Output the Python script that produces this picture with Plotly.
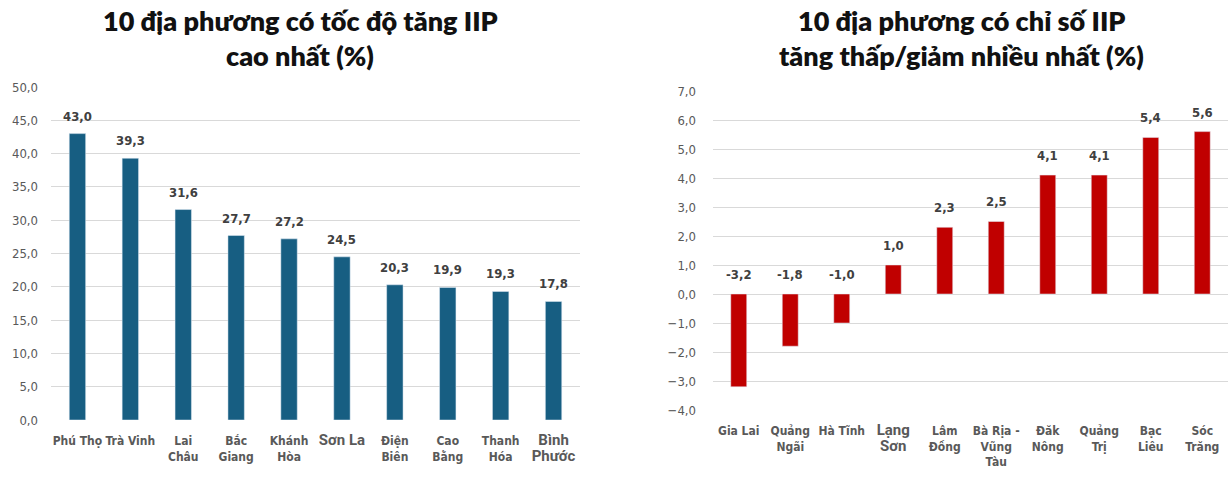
import plotly.graph_objects as go

# Top 10 provinces by IIP growth (%)
top_provinces = ["Phú Thọ", "Trà Vinh", "Lai<br>Châu", "Bắc<br>Giang", "Khánh<br>Hòa",
                 "Sơn La", "Điện<br>Biên", "Cao<br>Bằng", "Thanh<br>Hóa", "Bình<br>Phước"]
top_values = [43.0, 39.3, 31.6, 27.7, 27.2, 24.5, 20.3, 19.9, 19.3, 17.8]

# 10 provinces with lowest growth / largest decline (%)
low_provinces = ["Gia Lai", "Quảng<br>Ngãi", "Hà Tĩnh", "Lạng<br>Sơn", "Lâm<br>Đồng",
                 "Bà Rịa -<br>Vũng<br>Tàu", "Đăk<br>Nông", "Quảng<br>Trị", "Bạc<br>Liêu", "Sóc<br>Trăng"]
low_values = [-3.2, -1.8, -1.0, 1.0, 2.3, 2.5, 4.1, 4.1, 5.4, 5.6]

# labels rendered in a wider typeface
wide_labels = {"Sơn La", "Bình<br>Phước", "Lạng<br>Sơn"}

NARROW = "DejaVu Sans Condensed, Liberation Sans Narrow, Roboto, sans-serif"
TITLE_FONT = "Lato, Open Sans, sans-serif"
BLUE = "#175e82"
RED = "#c00000"
GRID = "#d9d9d9"
TICK = "#595959"
LABEL = "#404040"


def tick_text(names):
    out = []
    for n in names:
        if n in wide_labels:
            out.append('<span style="font-family:Roboto, sans-serif;font-size:15px">' + n + "</span>")
        else:
            out.append(n)
    return out


def fmt(v):
    return f"{v:.1f}".replace(".", ",")


fig = go.Figure()

fig.add_trace(go.Bar(x=list(range(len(top_values))), y=top_values, marker_color=BLUE,
                     width=0.31, xaxis="x", yaxis="y", hoverinfo="skip"))
fig.add_trace(go.Bar(x=list(range(len(low_values))), y=low_values, marker_color=RED,
                     width=0.31, xaxis="x2", yaxis="y2", hoverinfo="skip"))

annotations = []
for i, v in enumerate(top_values):
    annotations.append(dict(x=i, y=v, xref="x", yref="y", text=fmt(v), showarrow=False,
                            yanchor="bottom", yshift=8,
                            font=dict(family=NARROW, size=13, color=LABEL, weight="bold")))
for i, v in enumerate(low_values):
    annotations.append(dict(x=i, y=max(v, 0), xref="x2", yref="y2", text=fmt(v), showarrow=False,
                            yanchor="bottom", yshift=10,
                            font=dict(family=NARROW, size=13, color=LABEL, weight="bold")))

titles = [
    (300, 20, "10 địa phương có tốc độ tăng IIP"),
    (300, 55, "cao nhất (%)"),
    (961, 20, "10 địa phương có chỉ số IIP"),
    (961, 55, "tăng thấp/giảm nhiều nhất (%)"),
]
for x, y, t in titles:
    annotations.append(dict(x=x / 1230, y=1 - y / 483, xref="paper", yref="paper", text=t,
                            showarrow=False, xanchor="center", yanchor="middle",
                            font=dict(family=TITLE_FONT, size=27, color="#111111", weight=800)))

axis_common = dict(showline=False, zeroline=False, ticks="", fixedrange=True, automargin=False)

fig.update_layout(
    width=1230, height=483,
    margin=dict(l=0, r=0, t=0, b=0),
    paper_bgcolor="white", plot_bgcolor="white",
    showlegend=False,
    separators=",.",
    annotations=annotations,
    xaxis=dict(domain=[51 / 1230, 580 / 1230], range=[-0.5, 9.5], tickmode="array",
               tickvals=list(range(10)), ticktext=tick_text(top_provinces), showgrid=False,
               tickfont=dict(family=NARROW, size=12, color=TICK, weight="bold"),
               tickangle=0, ticklabelstandoff=12, anchor="y", **axis_common),
    yaxis=dict(domain=[63 / 483, 396 / 483], range=[0, 50], dtick=5, tickformat=".1f",
               showgrid=True, gridcolor=GRID, gridwidth=1,
               tickfont=dict(family=NARROW, size=13, color=TICK), ticklabelstandoff=12,
               anchor="x", **axis_common),
    xaxis2=dict(domain=[713 / 1230, 1228 / 1230], range=[-0.5, 9.5], tickmode="array",
                tickvals=list(range(10)), ticktext=tick_text(low_provinces), showgrid=False,
                tickfont=dict(family=NARROW, size=12, color=TICK, weight="bold"),
                tickangle=0, ticklabelstandoff=12, anchor="y2", **axis_common),
    yaxis2=dict(domain=[73 / 483, 392 / 483], range=[-4, 7], dtick=1, tickformat=".1f",
                showgrid=True, gridcolor=GRID, gridwidth=1,
                tickfont=dict(family=NARROW, size=13, color=TICK), ticklabelstandoff=16,
                anchor="x2", **axis_common),
)

fig.write_html("out.html")
